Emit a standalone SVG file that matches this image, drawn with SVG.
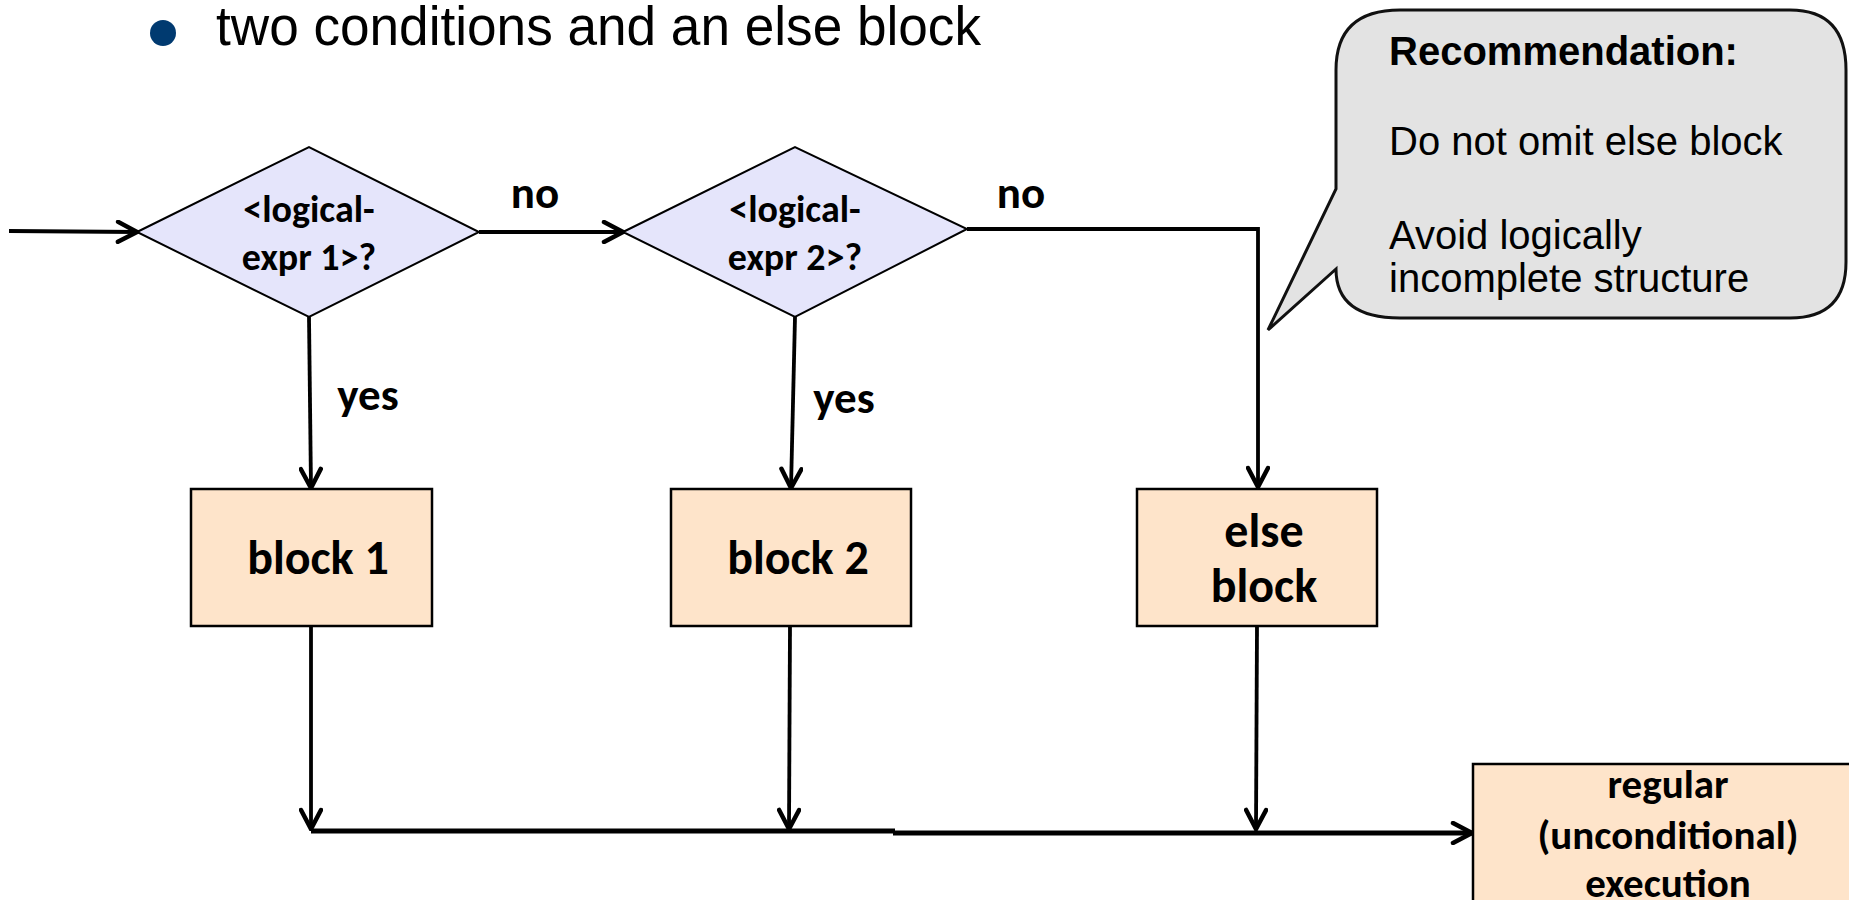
<svg xmlns="http://www.w3.org/2000/svg" width="1849" height="900" viewBox="0 0 1849 900">
  <style>
    .bg { fill: #ffffff; }
    .diamond { fill: #e5e5fb; stroke: #000; stroke-width: 2; }
    .block { fill: #fee4ca; stroke: #000; stroke-width: 2.5; }
    .callout { fill: #e3e3e3; stroke: #111; stroke-width: 3; }
    .edge { fill: none; stroke: #000; stroke-width: 3.8; }
    .thick { fill: none; stroke: #000; stroke-width: 5; }
    .lbl { font-family: Carlito, Lato, "Open Sans", sans-serif; font-weight: bold; fill: #000; text-anchor: middle; }
    .cond { font-size: 38px; }
    .edgelbl { font-size: 45px; }
    .blk { font-size: 48px; }
    .reg { font-size: 41px; }
    .arial { font-family: "Liberation Sans", Arial, sans-serif; fill: #000; }
  </style>
  <defs>
    <marker id="arrow" viewBox="0 0 24 24" refX="22" refY="12" markerWidth="24" markerHeight="24" markerUnits="userSpaceOnUse" orient="auto">
      <path d="M3,2 L22,12 L3,22" fill="none" stroke="#000" stroke-width="4.5" stroke-linecap="round" stroke-linejoin="miter"/>
    </marker>
  </defs>
  <rect class="bg" x="0" y="0" width="1849" height="900"/>

  <!-- heading bullet -->
  <g id="heading">
    <circle cx="163" cy="33" r="13" fill="#003a70"/>
    <text class="arial" x="216" y="45" font-size="56" textLength="765" lengthAdjust="spacingAndGlyphs">two conditions and an else block</text>
  </g>

  <!-- connectors -->
  <g id="connectors">
    <line class="edge" x1="9" y1="231" x2="137" y2="232" marker-end="url(#arrow)"/>
    <line class="edge" x1="479" y1="232" x2="623" y2="232" marker-end="url(#arrow)"/>
    <polyline class="edge" points="967,229 1258,229 1258,487" marker-end="url(#arrow)"/>
    <line class="edge" x1="309" y1="317" x2="311" y2="488" marker-end="url(#arrow)"/>
    <line class="edge" x1="795" y1="317" x2="791" y2="488" marker-end="url(#arrow)"/>
    <line class="edge" x1="311" y1="626" x2="311" y2="829" marker-end="url(#arrow)"/>
    <line class="edge" x1="790" y1="626" x2="789" y2="829" marker-end="url(#arrow)"/>
    <line class="edge" x1="1257" y1="626" x2="1256" y2="829" marker-end="url(#arrow)"/>
    <line class="thick" x1="311" y1="831" x2="895" y2="831"/>
    <line class="thick" x1="893" y1="833" x2="1472" y2="833" marker-end="url(#arrow)"/>
    <text class="lbl edgelbl" x="535" y="208">no</text>
    <text class="lbl edgelbl" x="1021" y="208">no</text>
    <text class="lbl edgelbl" x="368" y="410">yes</text>
    <text class="lbl edgelbl" x="844" y="413">yes</text>
  </g>

  <g id="cond1">
    <polygon class="diamond" points="137,232 309,147 479,232 309,317"/>
    <text class="lbl cond" x="309" y="222">&lt;logical-</text>
    <text class="lbl cond" x="309" y="270">expr 1&gt;?</text>
  </g>

  <g id="cond2">
    <polygon class="diamond" points="623,232 795,147 967,229 795,317"/>
    <text class="lbl cond" x="795" y="222">&lt;logical-</text>
    <text class="lbl cond" x="795" y="270">expr 2&gt;?</text>
  </g>

  <g id="block1">
    <rect class="block" x="191" y="489" width="241" height="137"/>
    <text class="lbl blk" x="318" y="574">block 1</text>
  </g>

  <g id="block2">
    <rect class="block" x="671" y="489" width="240" height="137"/>
    <text class="lbl blk" x="798" y="574">block 2</text>
  </g>

  <g id="elseblock">
    <rect class="block" x="1137" y="489" width="240" height="137"/>
    <text class="lbl blk" x="1264" y="547">else</text>
    <text class="lbl blk" x="1264" y="602">block</text>
  </g>

  <g id="regular">
    <rect class="block" x="1473" y="764" width="400" height="160"/>
    <text class="lbl reg" x="1668" y="798">regular</text>
    <text class="lbl reg" x="1668" y="849">(unconditional)</text>
    <text class="lbl reg" x="1668" y="897">execution</text>
  </g>

  <g id="recommendation">
    <path class="callout" d="M1336,189 L1336,70 Q1336,10 1400,10 L1790,10 Q1846,10 1846,70 L1846,262 Q1846,318 1790,318 L1400,318 Q1336,318 1336,269 L1268,330 Z"/>
    <text class="arial" x="1389" y="65" font-size="40" font-weight="bold">Recommendation:</text>
    <text class="arial" x="1389" y="155" font-size="40">Do not omit else block</text>
    <text class="arial" x="1389" y="249" font-size="40">Avoid logically</text>
    <text class="arial" x="1389" y="292" font-size="40">incomplete structure</text>
  </g>
</svg>
